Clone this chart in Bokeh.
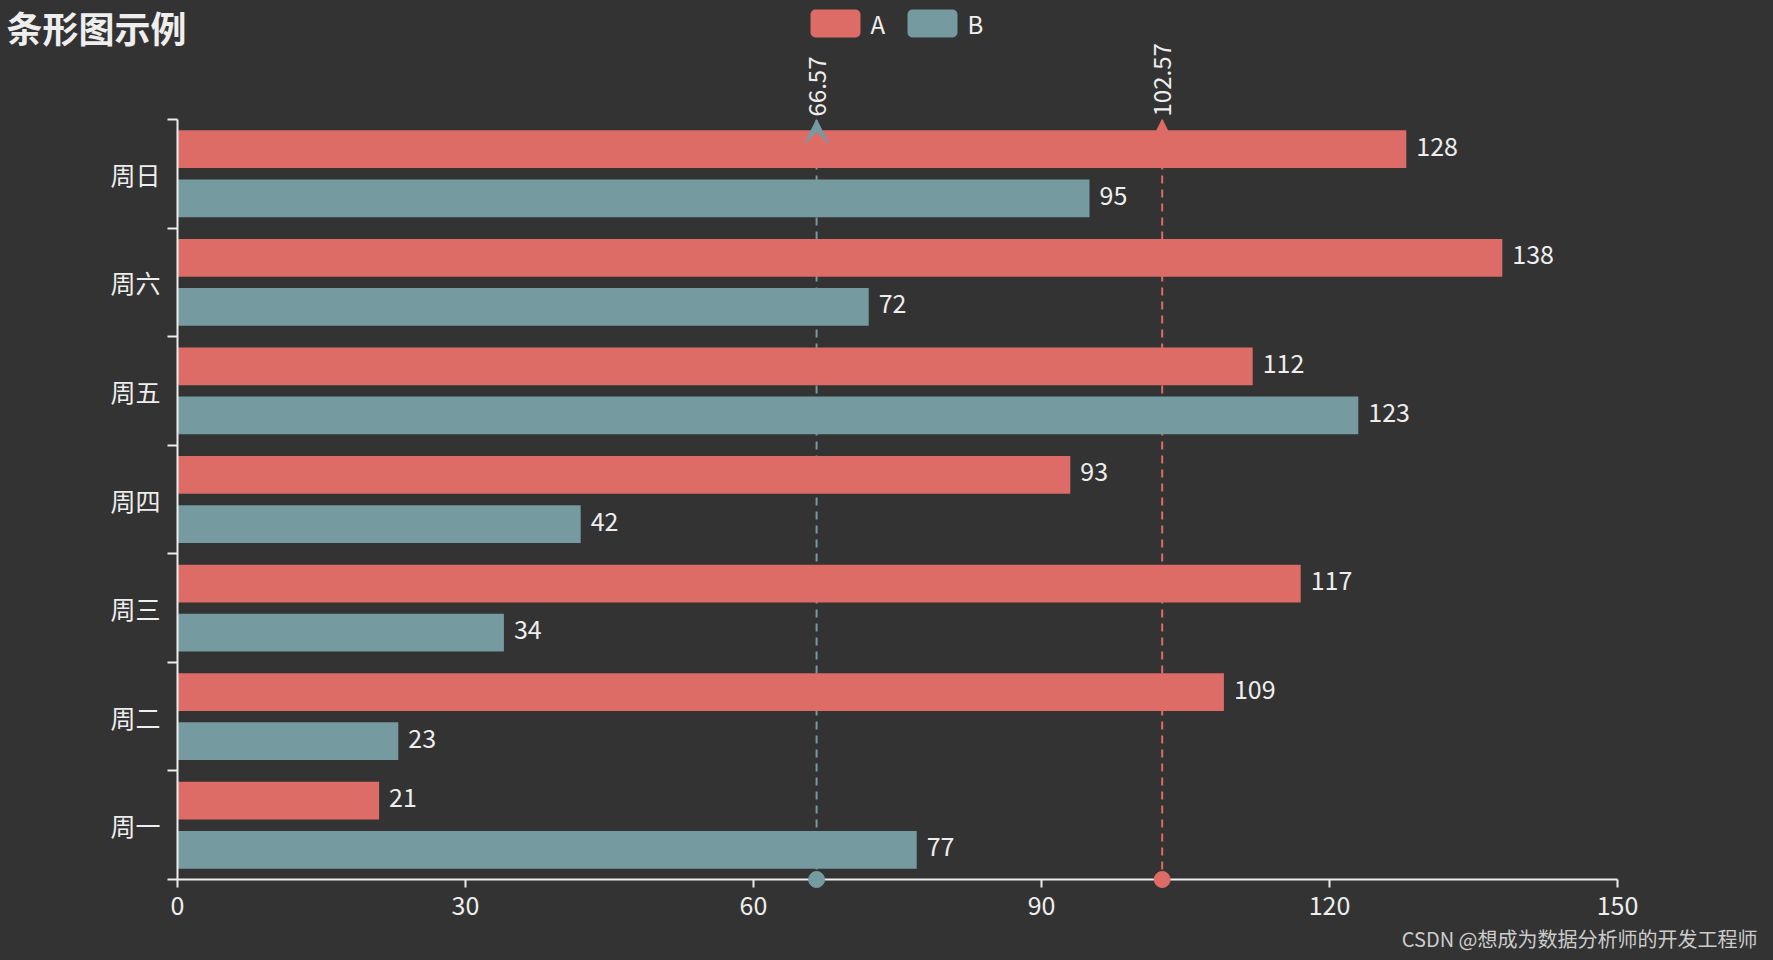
import math
from bokeh.plotting import figure
from bokeh.models import (Range1d, LinearAxis, FixedTicker, Span, Arrow, VeeHead, ColumnDataSource)
from bokeh.core.properties import value
from bokeh.embed import file_html
from bokeh.resources import INLINE

# ---------------- data ----------------
days = ["周一", "周二", "周三", "周四", "周五", "周六", "周日"]
series_a = [21, 109, 117, 93, 112, 138, 128]
series_b = [77, 23, 34, 42, 123, 72, 95]
x_ticks = [0, 30, 60, 90, 120, 150]
series_names = ["A", "B"]
title_text = "条形图示例"
credit_text = "CSDN @想成为数据分析师的开发工程师"

# ---------------- style ----------------
BG = "#333333"
FG = "#eeeeee"
COLORS = ["#dd6b66", "#759aa0"]
FONT = "Noto Sans CJK SC"
LBL = "25px"

W, H = 1773, 960
F_LEFT, F_TOP, F_RIGHT, F_BOTTOM = 177, 119, 1617, 879   # frame edges in page pixels

n = len(days)
cat_gap, bar_gap = 0.2, 0.3
bar_h = (1 - cat_gap) / (2 + bar_gap)
shift = bar_h * (0.5 + bar_gap / 2)
centers = [i + 0.5 for i in range(n)]

src = ColumnDataSource(dict(
    day=days, a=series_a, b=series_b,
    ya=[c + shift for c in centers], yb=[c - shift for c in centers],
    la=[str(v) for v in series_a], lb=[str(v) for v in series_b],
))

p = figure(width=W, height=H,
           x_range=Range1d(x_ticks[0], x_ticks[-1]), y_range=Range1d(0, n),
           output_backend="svg", toolbar_location=None,
           x_axis_location=None, y_axis_location=None,
           min_border_left=F_LEFT, min_border_top=F_TOP,
           min_border_right=W - F_RIGHT, min_border_bottom=H - F_BOTTOM,
           background_fill_color=None, border_fill_color=None)
p.outline_line_color = None
p.grid.visible = False
# page-pixel coordinate system for decorations (title, legend, credit)
p.extra_x_ranges = {"px": Range1d(F_LEFT, F_RIGHT)}
p.extra_y_ranges = {"px": Range1d(F_BOTTOM, F_TOP)}

# axes
xa = LinearAxis(ticker=FixedTicker(ticks=x_ticks))
xa.axis_line_color = FG
xa.axis_line_width = 2
xa.major_tick_line_color = FG
xa.major_tick_line_width = 2
xa.major_tick_in = 0
xa.major_tick_out = 8
xa.minor_tick_line_color = None
xa.major_label_text_font = FONT
xa.major_label_text_font_size = LBL
xa.major_label_text_color = FG
xa.major_label_standoff = 8
p.add_layout(xa, "below")

ya = LinearAxis(ticker=FixedTicker(ticks=centers, minor_ticks=list(range(n + 1))),
                major_label_overrides={c: d for c, d in zip(centers, days)})
ya.axis_line_color = FG
ya.axis_line_width = 2
ya.major_tick_line_color = None
ya.major_tick_in = 0
ya.major_tick_out = 0
ya.minor_tick_line_color = FG
ya.minor_tick_line_width = 2
ya.minor_tick_in = 0
ya.minor_tick_out = 10
ya.major_label_text_font = FONT
ya.major_label_text_font_size = LBL
ya.major_label_text_color = FG
ya.major_label_standoff = 7
p.add_layout(ya, "left")

means = [sum(series_a) / n, sum(series_b) / n]

# mean lines (below bars)
for m, c in zip(means, COLORS):
    p.add_layout(Span(location=m, dimension="height", line_color=c, line_width=2,
                      line_dash="8 6", level="underlay"))

# bars
ra = p.hbar(y="ya", left=0, right="a", height=bar_h, fill_color=COLORS[0], line_color=None, source=src)
rb = p.hbar(y="yb", left=0, right="b", height=bar_h, fill_color=COLORS[1], line_color=None, source=src)

# value labels
p.text(x="a", y="ya", text="la", source=src, x_offset=10, y_offset=-3, text_baseline="middle",
       text_align="left", text_font=value(FONT), text_font_size=LBL, text_color=FG)
p.text(x="b", y="yb", text="lb", source=src, x_offset=10, y_offset=-3, text_baseline="middle",
       text_align="left", text_font=value(FONT), text_font_size=LBL, text_color=FG)

# mean markers
for m, c in zip(means, COLORS):
    p.add_layout(Arrow(end=VeeHead(size=24, fill_color=c, line_color=c, line_width=1),
                       x_start=m, y_start=0, x_end=m, y_end=n, line_alpha=0))
    p.scatter(x=[m], y=[0], size=16, color=c, level="overlay")
    p.text(x=[m], y=[n], text=[f"{m:.2f}"], angle=math.pi / 2, text_align="left",
           text_baseline="middle", y_offset=-3, text_font=value(FONT), text_font_size="24px",
           text_color=FG, level="overlay")

# legend (drawn in page pixels)
leg_left = [810, 907]
leg_top, leg_bottom = 9, 37
kw = dict(x_range_name="px", y_range_name="px", level="overlay")
try:
    p.quad(left=leg_left, right=[v + 50 for v in leg_left], top=[leg_top] * 2, bottom=[leg_bottom] * 2,
           fill_color=COLORS, line_color=None, border_radius=5, **kw)
except Exception:
    p.quad(left=leg_left, right=[v + 50 for v in leg_left], top=[leg_top] * 2, bottom=[leg_bottom] * 2,
           fill_color=COLORS, line_color=None, **kw)
p.text(x=[v + 60 for v in leg_left], y=[(leg_top + leg_bottom) / 2] * 2, text=series_names,
       text_font=value(FONT), text_font_size="24px", text_color=FG,
       text_baseline="middle", text_align="left", **kw)

# title and credit
p.text(x=[6], y=[0], text=[title_text], text_font=value(FONT), text_font_size="36px",
       text_font_style="bold", text_color=FG, text_baseline="top", text_align="left", **kw)
p.text(x=[1757], y=[938], text=[credit_text], text_font=value(FONT), text_font_size="20px",
       text_color="#cccccc", text_baseline="middle", text_align="right", **kw)

html = file_html(p, INLINE)
html = html.replace("</head>", "<style>html, body { background-color: #333333 !important; }</style></head>", 1)
open("out.html", "w").write(html)
